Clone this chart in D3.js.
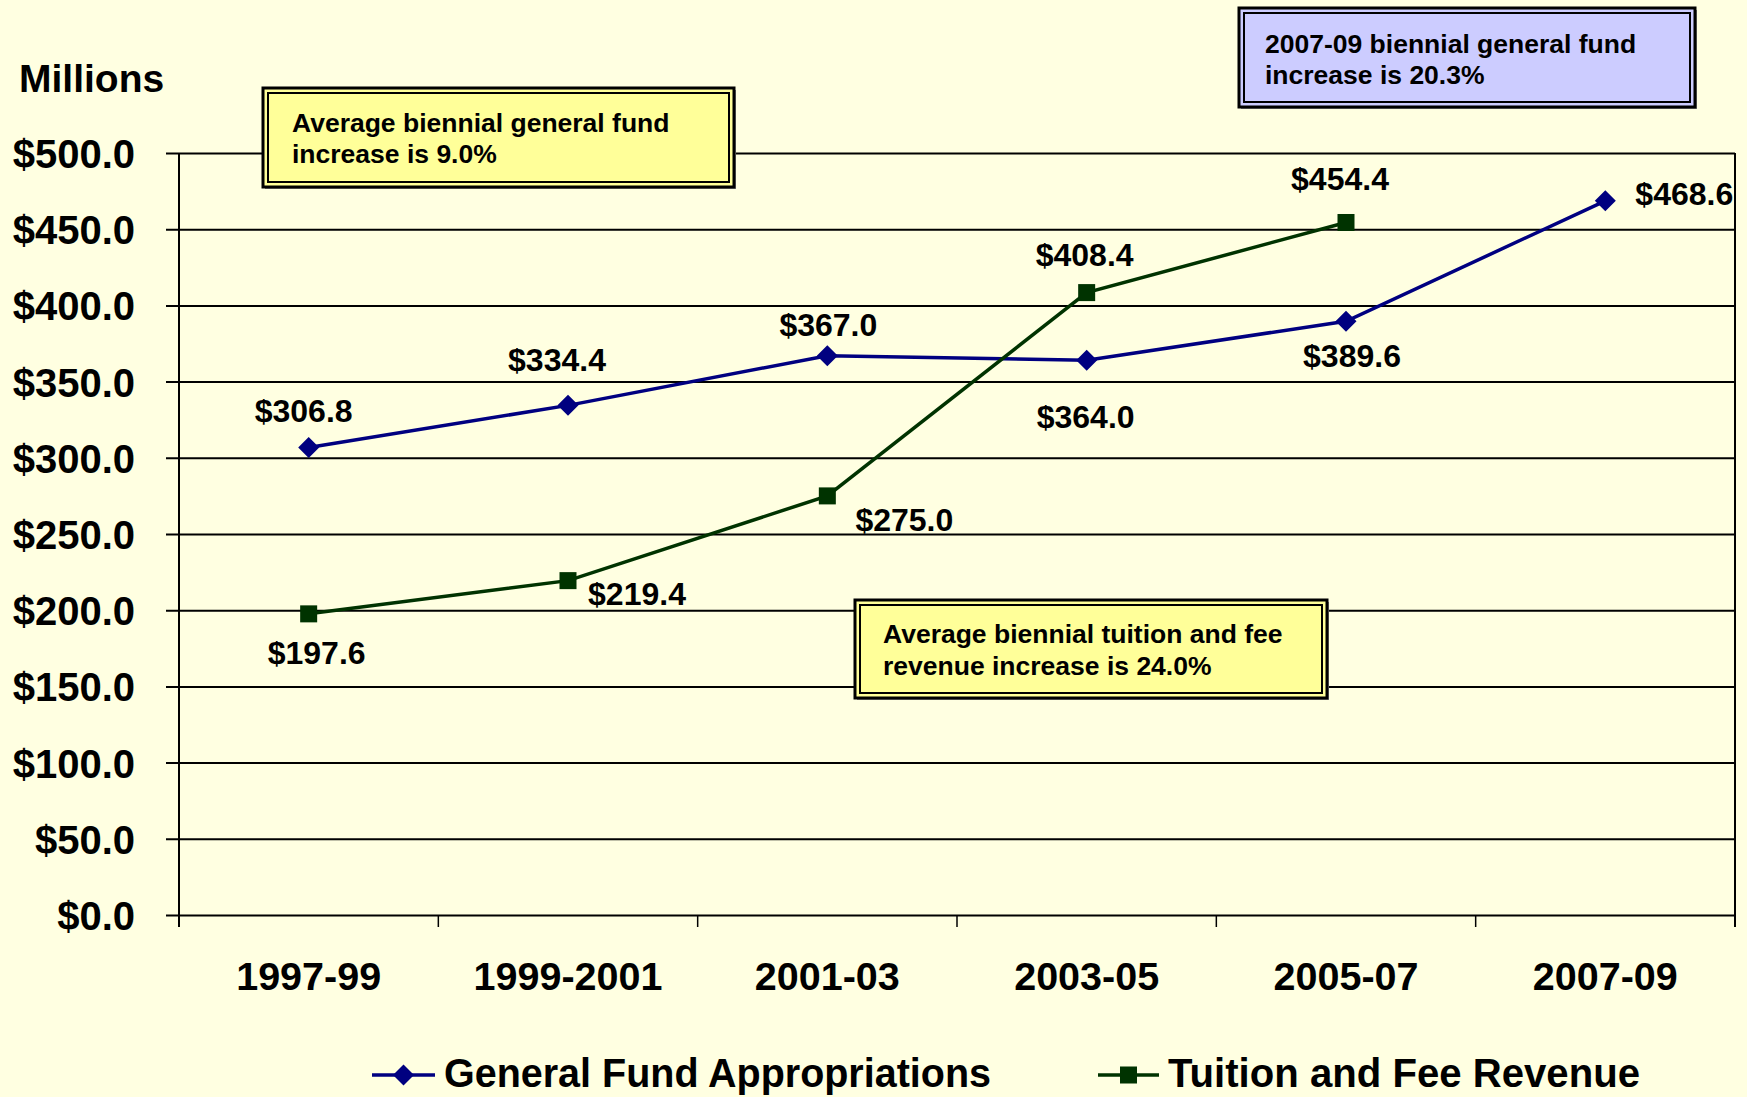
<!DOCTYPE html>
<html>
<head>
<meta charset="utf-8">
<script src="https://cdn.jsdelivr.net/npm/d3@7"></script>
<style>
  html, body { margin: 0; padding: 0; background: #FFFFE1; }
  svg { display: block; }
  text { font-family: "Liberation Sans", Arial, sans-serif; font-weight: bold; fill: #000; }
</style>
</head>
<body>
<svg id="chart" width="1747" height="1097"></svg>
<script>
// ---- data ----
const categories = ["1997-99", "1999-2001", "2001-03", "2003-05", "2005-07", "2007-09"];
const generalFund = [306.8, 334.4, 367.0, 364.0, 389.6, 468.6];
const tuitionFees = [197.6, 219.4, 275.0, 408.4, 454.4, null];
const yTicks = [0, 50, 100, 150, 200, 250, 300, 350, 400, 450, 500];
const seriesNames = ["General Fund Appropriations", "Tuition and Fee Revenue"];
const notes = [
  ["Average biennial general fund", "increase is 9.0%"],
  ["2007-09 biennial general fund", "increase is 20.3%"],
  ["Average biennial tuition and fee", "revenue increase is 24.0%"]
];

// ---- layout (label offsets from points, in px) ----
const gfLabelOff = [[-5,-37,"middle"],[-11,-46,"middle"],[1,-31,"middle"],[-1,56,"middle"],[6,34,"middle"],[30,-7,"start"]];
const tfLabelOff = [[8,39,"middle"],[69,13,"middle"],[77,24,"middle"],[-2,-38,"middle"],[-6,-44,"middle"]];

const svg = d3.select("#chart");
const L = 179, R = 1735, T = 153, B = 915;
const x = d3.scaleBand().domain(categories).range([L, R]).padding(0);
const y = d3.scaleLinear().domain([0, 500]).range([B, T]);
const cx = c => x(c) + x.bandwidth() / 2;
const fmt = v => "$" + d3.format(".1f")(v);

// gridlines + y axis
const yAxis = d3.axisLeft(y).tickValues(yTicks).tickSizeInner(-(R - L)).tickSizeOuter(0).tickFormat(fmt);
const gy = svg.append("g").attr("transform", `translate(${L},0)`).call(yAxis);
gy.select(".domain").remove();
gy.selectAll(".tick line").attr("x1", -13).attr("stroke", "#000").attr("stroke-width", 2);
gy.selectAll(".tick text").attr("x", 135 - L).attr("font-size", 40).attr("dy", "0.36em")
  .style("font-family", "'Liberation Sans', Arial, sans-serif").style("font-weight", "bold").attr("fill", "#000");

// plot border verticals
svg.append("line").attr("x1", L).attr("x2", L).attr("y1", T).attr("y2", B + 12).attr("stroke", "#000").attr("stroke-width", 2);
svg.append("line").attr("x1", R).attr("x2", R).attr("y1", T).attr("y2", B + 12).attr("stroke", "#000").attr("stroke-width", 2);

// x axis
const gx = svg.append("g").attr("transform", `translate(0,${B})`);
gx.selectAll("line.tk").data(categories.slice(1)).join("line")
  .attr("x1", d => x(d)).attr("x2", d => x(d)).attr("y1", 0).attr("y2", 12)
  .attr("stroke", "#000").attr("stroke-width", 1.5);
gx.selectAll("text").data(categories).join("text")
  .attr("x", d => cx(d)).attr("y", 75).attr("text-anchor", "middle").attr("font-size", 39.5).text(d => d);

// Millions
svg.append("text").attr("x", 19).attr("y", 92).attr("font-size", 39).text("Millions");

// lines
const gfColor = "#000080", tfColor = "#003300";
const line = d3.line().defined(d => d.v != null).x(d => cx(d.c)).y(d => y(d.v));
const gfData = categories.map((c, i) => ({c, v: generalFund[i]}));
const tfData = categories.map((c, i) => ({c, v: tuitionFees[i]})).filter(d => d.v != null);

svg.append("path").datum(gfData).attr("d", line).attr("fill", "none").attr("stroke", gfColor).attr("stroke-width", 3.5);
svg.append("path").datum(tfData).attr("d", line).attr("fill", "none").attr("stroke", tfColor).attr("stroke-width", 3.5);

const diamond = s => `M0,${-s}L${s},0L0,${s}L${-s},0Z`;
svg.selectAll("path.gfm").data(gfData).join("path").attr("class", "gfm")
  .attr("d", diamond(10.5)).attr("transform", d => `translate(${cx(d.c)},${y(d.v)})`).attr("fill", gfColor);
svg.selectAll("rect.tfm").data(tfData).join("rect").attr("class", "tfm")
  .attr("x", d => cx(d.c) - 8.5).attr("y", d => y(d.v) - 8.5).attr("width", 17).attr("height", 17).attr("fill", tfColor);

// data labels
svg.selectAll("text.gfl").data(gfData).join("text").attr("class", "gfl")
  .attr("x", (d, i) => cx(d.c) + gfLabelOff[i][0]).attr("y", (d, i) => y(d.v) + gfLabelOff[i][1])
  .attr("dy", "0.36em").attr("text-anchor", (d, i) => gfLabelOff[i][2]).attr("font-size", 32).text(d => fmt(d.v));
svg.selectAll("text.tfl").data(tfData).join("text").attr("class", "tfl")
  .attr("x", (d, i) => cx(d.c) + tfLabelOff[i][0]).attr("y", (d, i) => y(d.v) + tfLabelOff[i][1])
  .attr("dy", "0.36em").attr("text-anchor", (d, i) => tfLabelOff[i][2]).attr("font-size", 32).text(d => fmt(d.v));

// annotation boxes
const boxes = [
  {x0: 263, y0: 88, w: 471, h: 99, fill: "#FFFF99", tx: 292, ty: [132, 163], lines: notes[0]},
  {x0: 1239, y0: 8, w: 456, h: 99, fill: "#CCCCFF", tx: 1265, ty: [53, 84], lines: notes[1]},
  {x0: 855, y0: 600, w: 472, h: 98, fill: "#FFFF99", tx: 883, ty: [643, 675], lines: notes[2]}
];
boxes.forEach(b => {
  const g = svg.append("g");
  g.append("rect").attr("x", b.x0 + 2).attr("y", b.y0 + 2).attr("width", b.w).attr("height", b.h).attr("fill", "#888");
  g.append("rect").attr("x", b.x0).attr("y", b.y0).attr("width", b.w).attr("height", b.h).attr("fill", b.fill).attr("stroke", "#000").attr("stroke-width", 3);
  g.append("rect").attr("x", b.x0 + 5).attr("y", b.y0 + 5).attr("width", b.w - 10).attr("height", b.h - 10).attr("fill", "none").attr("stroke", "#000").attr("stroke-width", 2);
  b.lines.forEach((t, i) => g.append("text").attr("x", b.tx).attr("y", b.ty[i]).attr("font-size", 26.5).text(t));
});

// legend
const leg = [
  {x1: 372, x2: 435, tx: 444, tw: 547, color: gfColor, type: "diamond", name: seriesNames[0]},
  {x1: 1098, x2: 1159, tx: 1168, tw: 472, color: tfColor, type: "square", name: seriesNames[1]}
];
const ly = 1075;
leg.forEach(l => {
  svg.append("line").attr("x1", l.x1).attr("x2", l.x2).attr("y1", ly).attr("y2", ly).attr("stroke", l.color).attr("stroke-width", 3.5);
  const mx = (l.x1 + l.x2) / 2;
  if (l.type === "diamond") svg.append("path").attr("d", diamond(10.5)).attr("transform", `translate(${mx},${ly})`).attr("fill", l.color);
  else svg.append("rect").attr("x", mx - 8.5).attr("y", ly - 8.5).attr("width", 17).attr("height", 17).attr("fill", l.color);
  svg.append("text").attr("x", l.tx).attr("y", ly + 12).attr("font-size", 40)
    .attr("textLength", l.tw).attr("lengthAdjust", "spacingAndGlyphs").text(l.name);
});
</script>
</body>
</html>
